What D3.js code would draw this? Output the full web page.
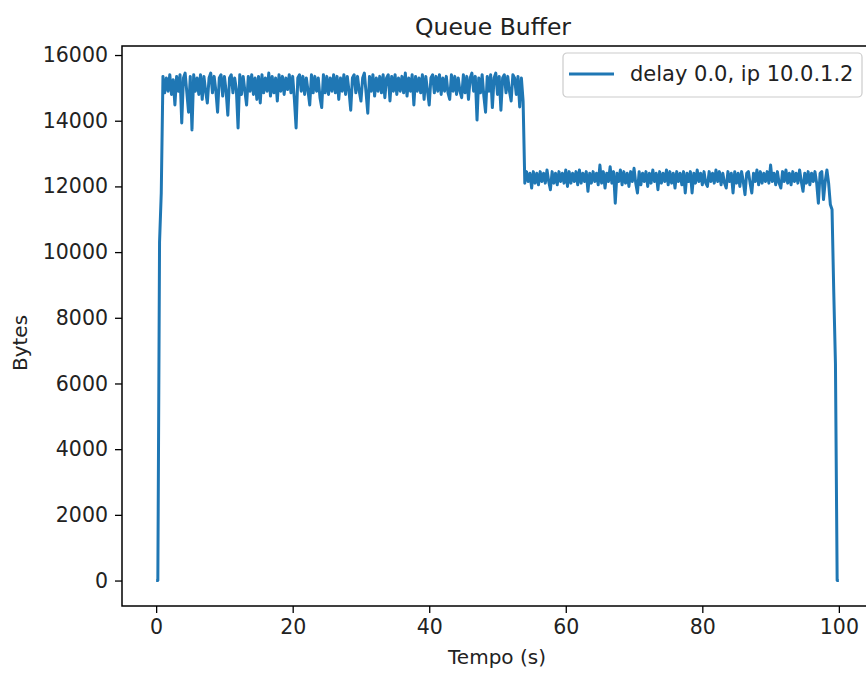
<!DOCTYPE html>
<html>
<head>
<meta charset="utf-8">
<script src="https://cdn.jsdelivr.net/npm/d3@7"></script>
<style>
  body { margin: 0; background: #fff; }
  svg { display: block; font-family: "DejaVu Sans", sans-serif; }
</style>
</head>
<body>
<svg width="866" height="673"></svg>
<script>
// sampling of the queue log (s)
var sampleStep = 0.25;

// queue start (t = 0 .. 0.75)
var riseBytes = [0, 0, 10300, 11800];

// first plateau, t = 1.00 .. 53.75
var plateau1 = [
  15350, 14850, 15300, 14900, 15400, 14800, 15250, 14480, 15350, 14900,
  15400, 13930, 15300, 15450, 14850, 14260, 15350, 13720, 15400, 14900,
  15300, 14800, 15400, 14650, 15350, 14900, 14540, 15300, 15450, 14850,
  15350, 14900, 14260, 15300, 15400, 14750, 15350, 14900, 14170, 15300,
  15400, 14850, 15300, 14950, 13780, 15400, 14800, 15350, 14900, 14480,
  15350, 14900, 15400, 14800, 15300, 14650, 15350, 14540, 15400, 14850,
  15300, 14900, 15450, 14750, 15350, 14850, 15300, 14600, 15400, 14900,
  15350, 14800, 15300, 14950, 15400, 14850, 15350, 14650, 13780, 15300,
  15400, 14900, 15350, 14800, 15300, 14900, 14480, 15400, 14850, 15350,
  14900, 15300, 14700, 14400, 15400, 14850, 15350, 14800, 15300, 14900,
  15400, 14850, 15350, 14650, 15300, 14900, 15400, 14800, 15350, 14900,
  14320, 15300, 15400, 14850, 15350, 14900, 14600, 15300, 15450, 14850,
  14230, 15350, 14900, 15400, 14750, 15300, 14900, 15350, 14850, 15400,
  14700, 15300, 15400, 14600, 15350, 14900, 15400, 14800, 15300, 14900,
  15350, 14850, 15450, 14750, 15300, 14900, 15400, 14480, 15350, 14900,
  15300, 14850, 15400, 14650, 15350, 14900, 14480, 15300, 15400, 14850,
  15350, 14900, 15400, 14800, 15300, 14900, 15350, 14850, 14650, 15400,
  14900, 15350, 14800, 15300, 14900, 14700, 15400, 14850, 15350, 14650,
  15300, 15450, 14900, 15350, 14020, 15300, 14850, 15400, 14750, 14260,
  15350, 14900, 15400, 14400, 15300, 15450, 14800, 15350, 14320, 15300,
  15400, 14850, 15350, 14900, 14600, 15400, 15300, 14800, 15350, 14420,
  15300, 14600
];

// second plateau, t = 54.00 .. 99.00
var plateau2 = [
  12100, 12450, 12150, 12400, 11950, 12450, 12100, 12400, 12050, 12450,
  12150, 12400, 12100, 12500, 12150, 11900, 12450, 12100, 12400, 12050,
  12450, 12150, 12400, 12100, 12500, 12000, 12450, 12100, 12400, 12150,
  12450, 12050, 12500, 12100, 12400, 12150, 12450, 11850, 12400, 12100,
  12450, 12150, 12400, 12050, 12650, 12100, 12450, 11950, 12400, 12150,
  12600, 12100, 12450, 11490, 12400, 12150, 12500, 12050, 12450, 12100,
  12400, 12000, 12450, 12150, 12550, 12100, 11800, 12450, 12050, 12400,
  12150, 12450, 12000, 12400, 12100, 12500, 12150, 12400, 11900, 12450,
  12100, 12400, 12150, 12500, 12050, 12450, 12100, 12400, 11950, 12450,
  12150, 12400, 12050, 12450, 11800, 12400, 12150, 12450, 11800, 12400,
  12100, 12500, 12150, 12400, 12050, 12450, 12100, 12000, 12450, 12150,
  12400, 12100, 12500, 12150, 12450, 12050, 12400, 12100, 11950, 12450,
  12150, 12400, 11800, 12450, 12100, 12400, 12000, 12450, 12150, 11750,
  12400, 12450, 12100, 11800, 12400, 12150, 12500, 12050, 12450, 12100,
  12400, 12150, 12450, 12100, 12650, 12150, 12400, 12050, 12450, 12100,
  11950, 12450, 12150, 12500, 12100, 12400, 12050, 12450, 12150, 12400,
  12100, 12500, 12150, 11850, 12400, 12100, 12450, 12050, 12400, 12150,
  12450, 12100, 11490, 12400, 12450, 11600, 12150, 12500, 12100, 11450,
  11300
];

// queue drain, t = 99.25 .. 100.00
var fallBytes = [8800, 6600, 0, 0];

var xTicks = [0, 20, 40, 60, 80, 100];
var yTicks = [0, 2000, 4000, 6000, 8000, 10000, 12000, 14000, 16000];
var seriesName = "delay 0.0, ip 10.0.1.2";

function drawQueue(){
    var svg = d3.select("svg"),
        margin = {top: 46, left: 122},
        width = 751,
        height = 560,
        g = svg.append("g").attr("transform", "translate(" + margin.left + "," + margin.top + ")");

    var bytes = riseBytes.concat(plateau1, plateau2, fallBytes);
    var data = bytes.map(function(v, i){
        return {t: i * sampleStep, b: v};
    });

    var x = d3.scaleLinear().domain([-5, 105]).range([0, width]);
    var y = d3.scaleLinear().domain([-775, 16275]).range([height, 0]);

    var line = d3.line()
        .x(function(d) { return x(d.t); })
        .y(function(d) { return y(d.b); });

    g.append("path")
        .datum(data)
        .attr("fill", "none")
        .attr("stroke", "#1f77b4")
        .attr("stroke-width", 3)
        .attr("stroke-linejoin", "round")
        .attr("d", line);

    // axes, matplotlib look
    var xAxis = g.append("g")
        .attr("transform", "translate(0," + height + ")")
        .call(d3.axisBottom(x).tickValues(xTicks).tickSize(7).tickPadding(6).tickSizeOuter(0));
    var yAxis = g.append("g")
        .call(d3.axisLeft(y).tickValues(yTicks).tickFormat(d3.format("d")).tickSize(7).tickPadding(7).tickSizeOuter(0));

    [xAxis, yAxis].forEach(function(a){
        a.select(".domain").remove();
        a.selectAll(".tick line").attr("stroke", "#000").attr("stroke-width", 1.3);
        a.selectAll(".tick text")
            .attr("fill", "#222")
            .style("font-size", "20.5px")
            .style("font-family", "DejaVu Sans");
    });

    // spines
    g.append("rect")
        .attr("width", width)
        .attr("height", height)
        .attr("fill", "none")
        .attr("stroke", "#000")
        .attr("stroke-width", 1.5);

    svg.append("text")
        .attr("x", 493).attr("y", 35)
        .attr("text-anchor", "middle")
        .attr("fill", "#222")
        .style("font-size", "23.5px")
        .text("Queue Buffer");

    svg.append("text")
        .attr("x", 497).attr("y", 664)
        .attr("text-anchor", "middle")
        .attr("fill", "#222")
        .style("font-size", "20px")
        .text("Tempo (s)");

    svg.append("text")
        .attr("transform", "translate(27,343) rotate(-90)")
        .attr("text-anchor", "middle")
        .attr("fill", "#222")
        .style("font-size", "20px")
        .text("Bytes");

    // legend
    var lg = svg.append("g").attr("transform", "translate(563,53)");
    lg.append("rect")
        .attr("width", 299).attr("height", 44)
        .attr("rx", 4)
        .attr("fill", "#fff").attr("fill-opacity", 0.8)
        .attr("stroke", "#ccc").attr("stroke-width", 1.2);
    lg.append("line")
        .attr("x1", 6).attr("x2", 51).attr("y1", 21).attr("y2", 21)
        .attr("stroke", "#1f77b4").attr("stroke-width", 3);
    lg.append("text")
        .attr("x", 67).attr("y", 28)
        .attr("fill", "#222")
        .style("font-size", "21px")
        .text(seriesName);
}

drawQueue();
</script>
</body>
</html>
